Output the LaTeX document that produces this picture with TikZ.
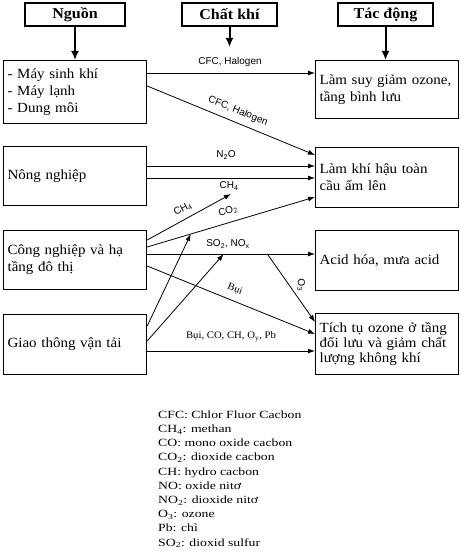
\documentclass[tikz,border=0pt]{standalone}
\usepackage{fontspec}
\setmainfont{Liberation Serif}
\newfontfamily\boxfont[FakeStretch=1.07]{Liberation Serif}
\newfontfamily\legfont[FakeStretch=1.25]{Liberation Serif}
\newfontfamily\lblsans{Liberation Sans}
\usetikzlibrary{arrows.meta,calc}
\begin{document}
\begin{tikzpicture}[x=1pt,y=-1pt,
  hdr/.style={draw, line width=1.2pt, minimum height=23pt, inner sep=0pt,
    font=\boxfont\bfseries\fontsize{15}{17}\selectfont},
  box/.style={draw, line width=1.2pt, anchor=north west, text width=139pt,
    inner xsep=2pt, inner ysep=0pt, align=left,
    font=\boxfont\fontsize{14}{17}\selectfont},
  conn/.style={line width=0.8pt, -{Latex[length=7pt,width=5pt]}},
  hdrarrow/.style={line width=2pt, -{Latex[length=9pt,width=8pt]}},
  sans/.style={font=\lblsans\fontsize{10}{12}\selectfont, inner sep=0pt},
  serif/.style={font=\boxfont\fontsize{10}{12}\selectfont, inner sep=0pt},
]
\useasboundingbox (0,0) rectangle (460,556);

% headers
\node[hdr, minimum width=100pt] (h1) at (75,14.5) {Nguồn};
\node[hdr, minimum width=95pt] (h2) at (229.5,14.5) {Chất khí};
\node[hdr, minimum width=95pt] (h3) at (385.5,14.5) {Tác động};

% source boxes
\node[box, minimum height=63pt] (s1) at (3,60) {\hspace*{2pt}- Máy sinh khí\\\hspace*{2pt}- Máy lạnh\\\hspace*{2pt}- Dung môi};
\node[box, minimum height=59pt] (s2) at (3,146) {\hspace*{2pt}Nông nghiệp};
\node[box, minimum height=59pt] (s3) at (3,230) {\hspace*{2pt}Công nghiệp và hạ\\\hspace*{2pt}tầng đô thị};
\node[box, minimum height=60pt] (s4) at (3,314) {\hspace*{2pt}Giao thông vận tải};

% target boxes
\node[box, minimum height=58pt] (t1) at (315,60) {\hspace*{2pt}Làm suy giảm ozone,\\\hspace*{2pt}tầng bình lưu};
\node[box, minimum height=60pt] (t2) at (315,147) {\hspace*{2pt}Làm khí hậu toàn\\\hspace*{2pt}cầu ấm lên};
\node[box, minimum height=60pt] (t3) at (315,230) {\hspace*{2pt}Acid hóa, mưa acid};
\node[box, minimum height=61pt, font=\boxfont\fontsize{14}{15}\selectfont] (t4) at (315,313)
  {\hspace*{2pt}Tích tụ ozone ở tầng\\\hspace*{2pt}đối lưu và giảm chất\\\hspace*{2pt}lượng không khí};

% header arrows
\coordinate (h2end) at (229.5,47);
\draw[hdrarrow] (h1) -- (h1 |- s1.north);
\draw[hdrarrow] (h2) -- (h2end);
\draw[hdrarrow] (h3) -- (h3 |- t1.north);

% connectors
\draw[conn] (s1.east |- 0,73) -- (t1.west |- 0,73);
\node[sans] (l1) at (230,62) {CFC, Halogen};
\draw[conn] (s1.east |- 0,86) -- (t2.west |- 0,155);
\node[sans, rotate=-22.2] (l2) at (238,111) {CFC, Halogen};

\draw[conn] (s2.east |- 0,166) -- (t2.west |- 0,166);
\draw[conn] (s2.east |- 0,178) -- (t2.west |- 0,178);
\node[sans] (l3) at (226,155) {N\textsubscript{2}O};

\coordinate (ch4tip) at (231,194);
\draw[conn] (s3.east |- 0,240) -- (ch4tip);
\node[sans] (l4) at (229,186) {CH\textsubscript{4}};
\node[sans, rotate=28] (l5) at (183,209) {CH\textsubscript{4}};
\draw[conn] (s3.east |- 0,247) -- (t2.west |- 0,197) coordinate[pos=0.26] (j1);
\node[sans, rotate=17] (l6) at (228,211) {CO\textsubscript{2}};

\draw[conn] (s3.east |- 0,254) -- (t3.west |- 0,254)
  coordinate[pos=0.456] (j2) coordinate[pos=0.716] (j3);
\node[sans] (l7) at (228,244) {SO\textsubscript{2}, NO\textsubscript{x}};
\draw[conn] (j3) -- (t4.west |- 0,322);
\node[sans, rotate=-80] (l8) at (301,285) {O\textsubscript{3}};

\draw[conn] (s3.east |- 0,266) -- (t4.west |- 0,334);
\node[serif, rotate=-22] (l9) at (235,289) {Bụi};

\draw[conn] (s4.east |- 0,326) -- (j1);
\draw[conn] (s4.east |- 0,341) -- (j2);
\draw[conn] (s4.east |- 0,351) -- (t4.west |- 0,351);
\node[serif] (l10) at (231,337) {Bụi, CO, CH, O\textsubscript{y}, Pb};

% legend
\node[anchor=north west, inner sep=0pt, align=left,
  font=\legfont\fontsize{11}{14.2}\selectfont] (leg) at (158,410.5)
  {CFC: Chlor Fluor Cacbon\\
   CH\textsubscript{4}: methan\\
   CO: mono oxide cacbon\\
   CO\textsubscript{2}: dioxide cacbon\\
   CH: hydro cacbon\\
   NO: oxide nitơ\\
   NO\textsubscript{2}: dioxide nitơ\\
   O\textsubscript{3}: ozone\\
   Pb: chì\\
   SO\textsubscript{2}: dioxid sulfur};
\end{tikzpicture}
\end{document}
